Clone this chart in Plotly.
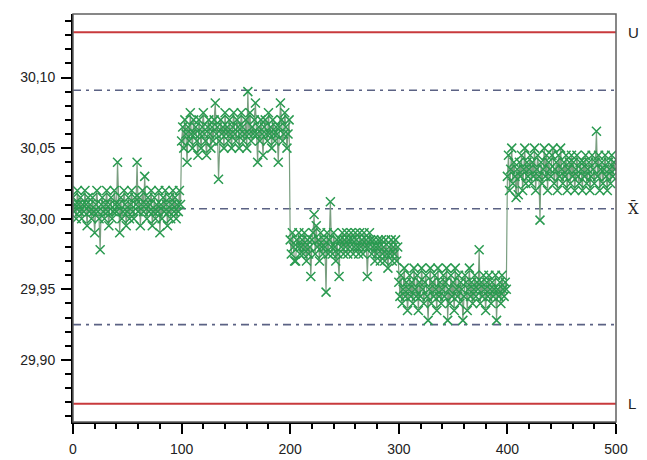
import plotly.graph_objects as go

# ---- data ----
seg1 = [30.015, 30.005, 30.010, 30.000, 30.020, 30.010, 30.005, 30.015, 30.000, 30.010,
        30.005, 30.020, 30.010, 29.995, 30.015, 30.005, 30.010, 30.000, 30.015, 30.005,
        29.990, 30.010, 30.020, 30.005, 30.000, 29.978, 30.010, 30.015, 30.005, 30.000,
        30.010, 30.020, 30.005, 29.995, 30.010, 30.015, 30.000, 30.005, 30.020, 30.010,
        30.005, 30.040, 30.010, 29.990, 30.015, 30.000, 30.005, 30.020, 30.010, 29.995,
        30.005, 30.015, 30.000, 30.010, 30.020, 30.005, 30.000, 30.015, 30.010, 30.040,
        30.005, 30.015, 29.995, 30.010, 30.020, 30.005, 30.030, 30.010, 30.000, 30.015,
        30.005, 30.010, 30.020, 29.995, 30.005, 30.015, 30.000, 30.010, 30.005, 30.020,
        29.990, 30.010, 30.000, 30.015, 30.005, 30.020, 30.010, 29.995, 30.005, 30.015,
        30.000, 30.010, 30.020, 30.005, 30.015, 30.000, 30.010, 30.005, 30.020, 30.010]
seg2 = [30.055, 30.065, 30.050, 30.070, 30.060, 30.040, 30.065, 30.055, 30.075, 30.060,
        30.050, 30.070, 30.060, 30.065, 30.055, 30.045, 30.070, 30.060, 30.050, 30.065,
        30.075, 30.060, 30.055, 30.045, 30.065, 30.070, 30.060, 30.050, 30.065, 30.055,
        30.070, 30.082, 30.060, 30.065, 30.028, 30.055, 30.070, 30.060, 30.065, 30.050,
        30.075, 30.060, 30.065, 30.055, 30.070, 30.060, 30.050, 30.065, 30.075, 30.060,
        30.055, 30.070, 30.065, 30.050, 30.060, 30.075, 30.065, 30.055, 30.060, 30.070,
        30.050, 30.090, 30.060, 30.075, 30.055, 30.065, 30.060, 30.070, 30.082, 30.060,
        30.040, 30.065, 30.055, 30.070, 30.060, 30.045, 30.065, 30.070, 30.060, 30.055,
        30.075, 30.060, 30.065, 30.050, 30.070, 30.060, 30.055, 30.065, 30.060, 30.040,
        30.065, 30.082, 30.070, 30.055, 30.060, 30.075, 30.065, 30.050, 30.060, 30.070]
seg3 = [29.985, 29.975, 29.990, 29.980, 29.970, 29.970, 29.985, 29.980, 29.990, 29.975,
        29.980, 29.985, 29.975, 29.990, 29.980, 29.970, 29.985, 29.975, 29.980, 29.959,
        29.985, 29.990, 30.003, 29.975, 29.995, 29.980, 29.985, 29.970, 29.990, 29.980,
        29.975, 29.985, 29.980, 29.948, 29.990, 29.975, 29.985, 30.012, 29.980, 29.975,
        29.990, 29.980, 29.970, 29.985, 29.975, 29.959, 29.985, 29.980, 29.990, 29.975,
        29.985, 29.980, 29.990, 29.975, 29.985, 29.980, 29.990, 29.985, 29.975, 29.980,
        29.990, 29.985, 29.980, 29.975, 29.990, 29.980, 29.985, 29.975, 29.990, 29.980,
        29.985, 29.959, 29.980, 29.990, 29.985, 29.975, 29.980, 29.985, 29.970, 29.980,
        29.975, 29.985, 29.980, 29.970, 29.985, 29.975, 29.980, 29.970, 29.985, 29.975,
        29.965, 29.980, 29.975, 29.985, 29.970, 29.980, 29.975, 29.985, 29.970, 29.980]
seg4 = [29.955, 29.945, 29.960, 29.940, 29.950, 29.965, 29.945, 29.955, 29.935, 29.950,
        29.960, 29.945, 29.955, 29.940, 29.965, 29.950, 29.945, 29.960, 29.935, 29.955,
        29.945, 29.965, 29.950, 29.940, 29.955, 29.960, 29.945, 29.928, 29.950, 29.965,
        29.940, 29.955, 29.945, 29.960, 29.950, 29.935, 29.965, 29.945, 29.955, 29.940,
        29.950, 29.960, 29.945, 29.955, 29.965, 29.928, 29.950, 29.940, 29.960, 29.945,
        29.955, 29.935, 29.965, 29.950, 29.945, 29.960, 29.940, 29.955, 29.950, 29.928,
        29.945, 29.960, 29.955, 29.935, 29.950, 29.965, 29.945, 29.955, 29.940, 29.950,
        29.960, 29.945, 29.955, 29.950, 29.978, 29.940, 29.955, 29.945, 29.960, 29.950,
        29.935, 29.955, 29.945, 29.960, 29.950, 29.940, 29.955, 29.945, 29.950, 29.960,
        29.928, 29.950, 29.945, 29.955, 29.940, 29.960, 29.950, 29.945, 29.955, 29.950]
seg5 = [30.030, 30.045, 30.020, 30.035, 30.050, 30.025, 30.040, 30.030, 30.015, 30.035,
        30.017, 30.040, 30.030, 30.045, 30.020, 30.035, 30.050, 30.025, 30.040, 30.030,
        30.035, 30.045, 30.025, 30.040, 30.030, 30.050, 30.020, 30.035, 30.045, 30.030,
        29.999, 30.040, 30.025, 30.035, 30.050, 30.030, 30.045, 30.020, 30.040, 30.035,
        30.030, 30.045, 30.050, 30.025, 30.035, 30.040, 30.020, 30.045, 30.030, 30.050,
        30.035, 30.025, 30.040, 30.030, 30.045, 30.020, 30.035, 30.040, 30.025, 30.045,
        30.030, 30.040, 30.020, 30.035, 30.045, 30.030, 30.025, 30.040, 30.035, 30.020,
        30.040, 30.030, 30.045, 30.025, 30.035, 30.040, 30.020, 30.030, 30.045, 30.035,
        30.025, 30.040, 30.062, 30.030, 30.045, 30.020, 30.035, 30.040, 30.025, 30.035,
        30.045, 30.030, 30.020, 30.040, 30.035, 30.025, 30.045, 30.030, 30.040, 30.035]

values = seg1 + seg2 + seg3 + seg4 + seg5
samples = list(range(len(values)))

upper_limit = 30.132
lower_limit = 29.869
center_line = 30.007
upper_warn = 30.091
lower_warn = 29.925
limit_labels = ["U", "X\u0304", "L"]

y_ticks = [29.90, 29.95, 30.00, 30.05, 30.10]

fig = go.Figure()

# reference lines
for yv, col, dash, w in [(upper_limit, "#c83a3c", "solid", 2),
                         (lower_limit, "#c83a3c", "solid", 2),
                         (center_line, "#5b6284", "8px,5px,3px,5px", 1.6),
                         (upper_warn, "#5b6284", "8px,5px,3px,5px", 1.6),
                         (lower_warn, "#5b6284", "8px,5px,3px,5px", 1.6)]:
    fig.add_shape(type="line", xref="x", yref="y", x0=0, x1=500, y0=yv, y1=yv,
                  line=dict(color=col, width=w, dash=dash), layer="below")

fig.add_trace(go.Scatter(
    x=samples, y=values, mode="lines+markers",
    line=dict(color="#7a9e80", width=1.2),
    marker=dict(symbol="x-thin", size=9, color="#2a9a50",
                line=dict(color="#2a9a50", width=1.5)),
    showlegend=False))

# frame (top/right gray)
fig.add_shape(type="rect", xref="paper", yref="paper", x0=0, x1=1, y0=0, y1=1,
              line=dict(color="#606060", width=1.5))

for txt, yv in zip(limit_labels, [upper_limit, center_line, lower_limit]):
    fig.add_annotation(x=1, xref="paper", xanchor="left", xshift=10, y=yv, yref="y",
                       text=txt, showarrow=False,
                       font=dict(family="DejaVu Serif" if "X" in txt else "Liberation Sans",
                                 size=15, color="#222"))

fig.update_layout(
    width=647, height=460,
    margin=dict(l=73, r=31, t=14, b=38),
    paper_bgcolor="white", plot_bgcolor="white",
    separators=",.",
    font=dict(family="Liberation Sans, Arial", size=14, color="#222"),
    xaxis=dict(range=[0, 500], dtick=100, tick0=0, showgrid=False, zeroline=False,
               showline=True, linecolor="black", linewidth=2, automargin=False,
               ticks="outside", ticklen=10, tickwidth=1.5, tickcolor="black",
               ticklabelstandoff=3,
               minor=dict(dtick=20, ticks="outside", ticklen=5, tickcolor="black", tickwidth=1.5)),
    yaxis=dict(range=[29.856, 30.145], tickvals=y_ticks, tickformat=".2f",
               showgrid=False, zeroline=False, automargin=False,
               showline=True, linecolor="black", linewidth=2,
               ticks="outside", ticklen=10, tickwidth=1.5, tickcolor="black",
               ticklabelstandoff=3,
               minor=dict(tick0=29.90, dtick=0.01, ticks="outside", ticklen=6,
                          tickcolor="black", tickwidth=1.5)),
)

fig.write_html("out.html")
